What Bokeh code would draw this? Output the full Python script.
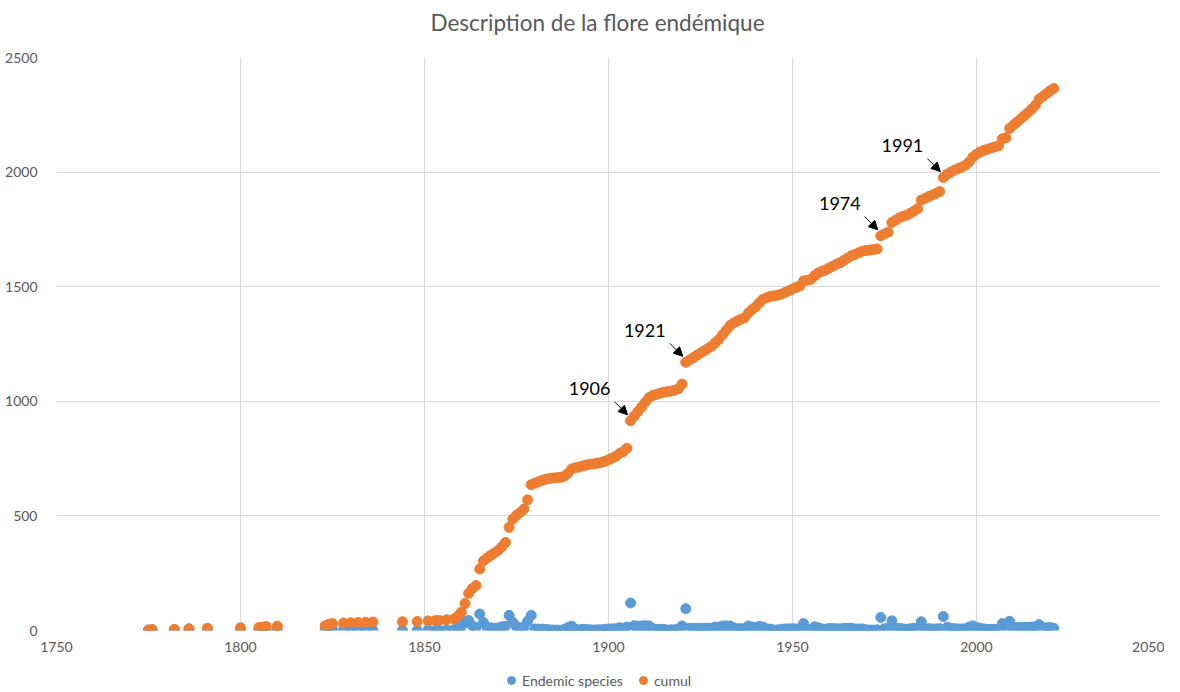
from bokeh.plotting import figure
from bokeh.models import (ColumnDataSource, FixedTicker, Label, Arrow, NormalHead,
                          Legend, LegendItem, Range1d)
from bokeh.layouts import column
from bokeh.embed import file_html
from bokeh.resources import INLINE

# ---------------- data ----------------
early_years = [1775, 1776, 1782, 1786, 1791, 1800, 1805, 1806, 1807, 1810,
               1823, 1824, 1825, 1828, 1830, 1832, 1834, 1836, 1844, 1848,
               1851, 1853, 1854, 1856, 1858]
early_species = [2, 2, 1, 3, 2, 2, 1, 2, 2, 2,
                 2, 6, 3, 3, 1, 1, 1, 1, 1, 1,
                 3, 1, 1, 3, 3]
early_cumul = [2, 4, 5, 8, 10, 12, 13, 15, 17, 19,
               21, 27, 30, 33, 34, 35, 36, 37, 38, 39,
               42, 43, 44, 47, 50]

annual_years = list(range(1859, 2022))
annual_species = [
    12,
    18, 38, 44, 21, 13, 72, 35, 13, 12, 10,
    11, 16, 19, 66, 36, 17, 12, 15, 40, 66,
    7, 6, 6, 5, 3, 2, 2, 1, 5, 13,
    19, 5, 3, 5, 4, 3, 2, 3, 3, 5,
    7, 7, 8, 12, 8, 15, 120, 21, 19, 20,
    21, 20, 9, 5, 5, 5, 2, 3, 3, 7,
    20, 95, 10, 10, 10, 10, 10, 10, 10, 15,
    15, 20, 20, 20, 12, 8, 8, 7, 20, 15,
    12, 18, 15, 7, 6, 2, 3, 5, 7, 7,
    8, 7, 6, 30, 3, 4, 16, 12, 7, 6,
    9, 8, 8, 7, 10, 10, 10, 6, 7, 7,
    3, 2, 2, 3, 57, 8, 8, 42, 10, 10,
    7, 5, 8, 10, 10, 38, 7, 8, 7, 7,
    8, 61, 14, 10, 8, 7, 7, 8, 15, 20,
    13, 10, 7, 5, 5, 5, 5, 30, 5, 40,
    15, 13, 14, 14, 14, 15, 17, 26, 12, 12,
    13, 10,
]
annual_cumul = [
    62,
    80, 118, 162, 183, 196, 268, 303, 316, 328, 338,
    349, 365, 384, 450, 486, 503, 515, 530, 570, 636,
    643, 649, 655, 660, 663, 665, 667, 668, 673, 686,
    705, 710, 713, 718, 722, 725, 727, 730, 733, 738,
    745, 752, 760, 772, 780, 795, 915, 936, 955, 975,
    996, 1016, 1025, 1030, 1035, 1040, 1042, 1045, 1048, 1055,
    1075, 1170, 1180, 1190, 1200, 1210, 1220, 1230, 1240, 1255,
    1270, 1290, 1310, 1330, 1342, 1350, 1358, 1365, 1385, 1400,
    1412, 1430, 1445, 1452, 1458, 1460, 1463, 1468, 1475, 1482,
    1490, 1497, 1503, 1525, 1528, 1532, 1548, 1560, 1567, 1573,
    1582, 1590, 1598, 1605, 1615, 1625, 1635, 1641, 1648, 1655,
    1658, 1660, 1662, 1665, 1722, 1730, 1738, 1780, 1790, 1800,
    1807, 1812, 1820, 1830, 1840, 1878, 1885, 1893, 1900, 1907,
    1915, 1976, 1990, 2000, 2008, 2015, 2022, 2030, 2045, 2065,
    2078, 2088, 2095, 2100, 2105, 2110, 2115, 2145, 2150, 2190,
    2205, 2218, 2232, 2246, 2260, 2275, 2292, 2318, 2330, 2342,
    2355, 2365,
]

years = early_years + annual_years
species = early_species + annual_species
cumul = early_cumul + annual_cumul

annotated_years = [1906, 1921, 1974, 1991]

x_ticks = [1750, 1800, 1850, 1900, 1950, 2000, 2050]
y_ticks = [0, 500, 1000, 1500, 2000, 2500]

title_text = "Description de la flore endémique"
series_names = ["Endemic species", "cumul"]

# ---------------- styles ----------------
FONT = "Lato"
GREY = "#595959"
BLUE = "#5B9BD5"
ORANGE = "#ED7D31"
W = 1164
FRAME_L, FRAME_R = 56, 1160   # page pixels of the chart frame (strips align to it)


def strip(height):
    f = figure(width=W, height=height, x_range=Range1d(FRAME_L, FRAME_R),
               y_range=Range1d(0, height),
               output_backend="svg", toolbar_location=None, min_border=0)
    f.axis.visible = False
    f.grid.visible = False
    f.outline_line_color = None
    return f


# ---------------- title strip ----------------
top = strip(40)
top.add_layout(Label(x=597, y=18, text=title_text, text_align="center",
                     text_baseline="middle", text_font=FONT,
                     text_font_size="22.5px", text_color=GREY))

# ---------------- main chart ----------------
p = figure(width=W, height=616,
           x_range=Range1d(1750, 2050), y_range=Range1d(0, 2500),
           output_backend="svg", toolbar_location=None,
           min_border_left=FRAME_L, min_border_right=W - FRAME_R,
           min_border_top=17, min_border_bottom=26)

p.outline_line_color = None
p.background_fill_color = "white"
p.border_fill_color = "white"

p.xaxis.ticker = FixedTicker(ticks=x_ticks)
p.yaxis.ticker = FixedTicker(ticks=y_ticks)
for ax in (p.xaxis, p.yaxis):
    ax.axis_line_color = None
    ax.major_tick_line_color = None
    ax.minor_tick_line_color = None
    ax.major_label_text_font = FONT
    ax.major_label_text_font_size = "14px"
    ax.major_label_text_color = GREY
p.xaxis.major_label_standoff = 5
p.yaxis.major_label_standoff = 13

p.xgrid.grid_line_color = "#d9d9d9"
p.ygrid.grid_line_color = "#d9d9d9"
p.xgrid.grid_line_width = 1
p.ygrid.grid_line_width = 1

src = ColumnDataSource(dict(year=years, species=species, cumul=cumul))

p.scatter(x="year", y="species", source=src, size=10,
          fill_color=BLUE, line_color=BLUE)
p.scatter(x="year", y="cumul", source=src, size=10,
          fill_color=ORANGE, line_color=ORANGE)

# annotations: label + arrow placed relative to the annotated point
YR_PER_PX = 50 / 184.0
VAL_PER_PX = 500 / 114.6
for yr in annotated_years:
    v = cumul[years.index(yr)]
    p.add_layout(Label(x=yr - 41 * YR_PER_PX, y=v + 32 * VAL_PER_PX,
                       text=str(yr), text_align="center", text_baseline="middle",
                       text_font=FONT, text_font_size="18px", text_color="black"))
    p.add_layout(Arrow(end=NormalHead(size=9, fill_color="black", line_color="black"),
                       x_start=yr - 16 * YR_PER_PX, y_start=v + 19 * VAL_PER_PX,
                       x_end=yr - 3 * YR_PER_PX, y_end=v + 6 * VAL_PER_PX,
                       line_color="black", line_width=1))

# ---------------- legend strip ----------------
leg = strip(35)
swatch = ColumnDataSource(dict(x=[float("nan")], y=[float("nan")]))
r1 = leg.scatter(x="x", y="y", source=swatch, size=10, fill_color=BLUE, line_color=BLUE)
r2 = leg.scatter(x="x", y="y", source=swatch, size=10, fill_color=ORANGE, line_color=ORANGE)
legend = Legend(items=[LegendItem(label=series_names[0], renderers=[r1]),
                       LegendItem(label=series_names[1], renderers=[r2])],
                orientation="horizontal", location=(501 - FRAME_L, 1),
                label_text_font=FONT, label_text_font_size="14px",
                label_text_color=GREY, border_line_color=None,
                background_fill_alpha=0, glyph_width=20, glyph_height=20,
                spacing=10, padding=0, margin=0, label_standoff=1,
                label_height=14)
leg.add_layout(legend)

layout = column(top, p, leg, spacing=0)
open("out.html", "w").write(file_html(layout, INLINE))
